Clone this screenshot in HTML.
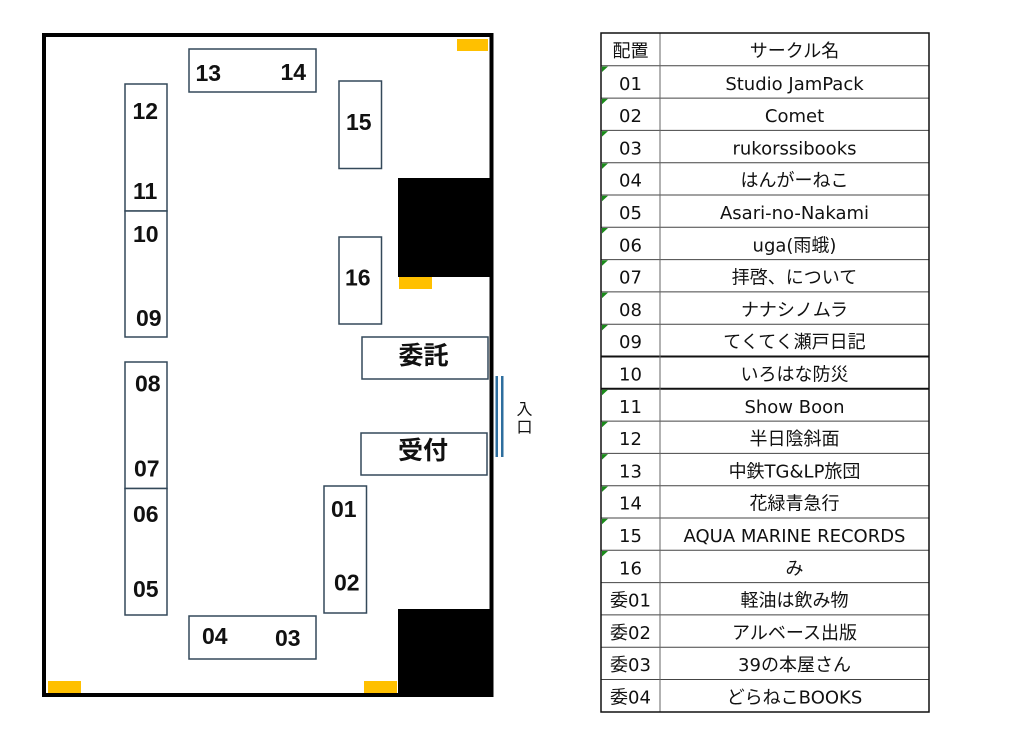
<!DOCTYPE html>
<html>
<head>
<meta charset="utf-8">
<style>
html,body{margin:0;padding:0;background:#fff;}
svg{display:block;}
.n{font-family:"Liberation Sans",sans-serif;font-weight:bold;font-size:23px;fill:#111;}
.k{font-family:"Liberation Sans","Noto Sans CJK JP",sans-serif;font-weight:bold;font-size:25px;fill:#111;}
.t{font-family:"DejaVu Sans","Noto Sans CJK JP",sans-serif;font-size:18px;fill:#111;}
.e{font-family:"Liberation Sans","Noto Sans CJK JP",sans-serif;font-size:16px;fill:#111;}
</style>
</head>
<body>
<svg width="1024" height="746" viewBox="0 0 1024 746" xmlns="http://www.w3.org/2000/svg">
<rect x="0" y="0" width="1024" height="746" fill="#fff"/>

<!-- Floor plan -->
<rect x="44" y="35" width="447.5" height="660" fill="#fff" stroke="#000" stroke-width="4"/>
<!-- black blocks -->
<rect x="398" y="178" width="94" height="99" fill="#000"/>
<rect x="398" y="609" width="95" height="88" fill="#000"/>
<!-- orange marks -->
<rect x="457" y="39" width="31" height="12" fill="#FFC000"/>
<rect x="399" y="277" width="33" height="12" fill="#FFC000"/>
<rect x="48" y="681" width="33" height="12" fill="#FFC000"/>
<rect x="364" y="681" width="33" height="12" fill="#FFC000"/>

<!-- entrance -->
<rect x="495.5" y="376" width="2.5" height="81" fill="#2E6E9E"/>
<rect x="501" y="376" width="2.5" height="81" fill="#2E6E9E"/>
<text class="e" x="524.5" y="410" text-anchor="middle" dominant-baseline="central">入</text>
<text class="e" x="524.5" y="428" text-anchor="middle" dominant-baseline="central">口</text>

<!-- tables -->
<g fill="#fff" stroke="#34495a" stroke-width="1.5">
<rect x="189" y="49" width="127" height="43"/>
<rect x="125" y="84" width="42" height="127"/>
<rect x="125" y="211" width="42" height="126"/>
<rect x="339" y="81" width="42.5" height="87.5"/>
<rect x="339" y="237" width="42.5" height="87"/>
<rect x="362" y="337" width="126" height="42"/>
<rect x="125" y="362" width="42" height="126.5"/>
<rect x="125" y="488.5" width="42" height="126.5"/>
<rect x="361" y="433" width="126" height="42"/>
<rect x="324" y="486" width="42.5" height="127"/>
<rect x="189" y="616" width="127" height="43"/>
</g>

<text class="n" x="195.5" y="81">13</text>
<text class="n" x="280.5" y="80">14</text>
<text class="n" x="132.5" y="119">12</text>
<text class="n" x="133" y="199">11</text>
<text class="n" x="133" y="242">10</text>
<text class="n" x="136" y="326">09</text>
<text class="n" x="346" y="130">15</text>
<text class="n" x="345" y="285.5">16</text>
<text class="n" x="135" y="391.5">08</text>
<text class="n" x="134" y="476.5">07</text>
<text class="n" x="133" y="522">06</text>
<text class="n" x="133" y="597">05</text>
<text class="n" x="331" y="517">01</text>
<text class="n" x="334" y="590.5">02</text>
<text class="n" x="202" y="644">04</text>
<text class="n" x="275" y="646">03</text>
<text class="k" x="423.5" y="356" text-anchor="middle" dominant-baseline="central">委託</text>
<text class="k" x="423" y="451" text-anchor="middle" dominant-baseline="central">受付</text>

<!-- Table -->
<g stroke="#444" stroke-width="1">
<line x1="601" y1="65.8" x2="929" y2="65.8"/>
<line x1="601" y1="98.1" x2="929" y2="98.1"/>
<line x1="601" y1="130.4" x2="929" y2="130.4"/>
<line x1="601" y1="162.7" x2="929" y2="162.7"/>
<line x1="601" y1="195.0" x2="929" y2="195.0"/>
<line x1="601" y1="227.3" x2="929" y2="227.3"/>
<line x1="601" y1="259.6" x2="929" y2="259.6"/>
<line x1="601" y1="291.9" x2="929" y2="291.9"/>
<line x1="601" y1="324.2" x2="929" y2="324.2"/>
<line x1="601" y1="356.5" x2="929" y2="356.5" stroke="#111" stroke-width="2"/>
<line x1="601" y1="388.8" x2="929" y2="388.8" stroke="#111" stroke-width="2"/>
<line x1="601" y1="421.1" x2="929" y2="421.1"/>
<line x1="601" y1="453.4" x2="929" y2="453.4"/>
<line x1="601" y1="485.7" x2="929" y2="485.7"/>
<line x1="601" y1="518.0" x2="929" y2="518.0"/>
<line x1="601" y1="550.3" x2="929" y2="550.3"/>
<line x1="601" y1="582.6" x2="929" y2="582.6"/>
<line x1="601" y1="614.9" x2="929" y2="614.9"/>
<line x1="601" y1="647.2" x2="929" y2="647.2"/>
<line x1="601" y1="679.5" x2="929" y2="679.5"/>
<line x1="660" y1="33" x2="660" y2="712" stroke="#666"/>
</g>
<rect x="601" y="33" width="328" height="679" fill="none" stroke="#111" stroke-width="1.5"/>

<!-- green corner marks -->
<g fill="#1a8a1a">
<polygon points="602,66.5 608,66.5 602,72"/>
<polygon points="602,98.8 608,98.8 602,104.3"/>
<polygon points="602,131.1 608,131.1 602,136.6"/>
<polygon points="602,163.4 608,163.4 602,168.9"/>
<polygon points="602,195.7 608,195.7 602,201.2"/>
<polygon points="602,228.0 608,228.0 602,233.5"/>
<polygon points="602,260.3 608,260.3 602,265.8"/>
<polygon points="602,292.6 608,292.6 602,298.1"/>
<polygon points="602,324.9 608,324.9 602,330.4"/>
<polygon points="602,389.8 608,389.8 602,395.3"/>
<polygon points="602,421.8 608,421.8 602,427.3"/>
<polygon points="602,454.1 608,454.1 602,459.6"/>
<polygon points="602,486.4 608,486.4 602,491.9"/>
<polygon points="602,518.7 608,518.7 602,524.2"/>
<polygon points="602,551.0 608,551.0 602,556.5"/>
</g>

<g class="t" text-anchor="middle">
<text x="630.5" y="57">配置</text><text x="794.5" y="57">サークル名</text>
<text x="630.5" y="89.8">01</text><text x="794.5" y="89.8">Studio JamPack</text>
<text x="630.5" y="122.1">02</text><text x="794.5" y="122.1">Comet</text>
<text x="630.5" y="154.4">03</text><text x="794.5" y="154.4">rukorssibooks</text>
<text x="630.5" y="186.7">04</text><text x="794.5" y="186.7">はんがーねこ</text>
<text x="630.5" y="219.0">05</text><text x="794.5" y="219.0">Asari-no-Nakami</text>
<text x="630.5" y="251.3">06</text><text x="794.5" y="251.3">uga(雨蛾)</text>
<text x="630.5" y="283.6">07</text><text x="794.5" y="283.6">拝啓、について</text>
<text x="630.5" y="315.9">08</text><text x="794.5" y="315.9">ナナシノムラ</text>
<text x="630.5" y="348.2">09</text><text x="794.5" y="348.2">てくてく瀬戸日記</text>
<text x="630.5" y="380.5">10</text><text x="794.5" y="380.5">いろはな防災</text>
<text x="630.5" y="412.8">11</text><text x="794.5" y="412.8">Show Boon</text>
<text x="630.5" y="445.1">12</text><text x="794.5" y="445.1">半日陰斜面</text>
<text x="630.5" y="477.4">13</text><text x="794.5" y="477.4">中鉄TG&amp;LP旅団</text>
<text x="630.5" y="509.7">14</text><text x="794.5" y="509.7">花緑青急行</text>
<text x="630.5" y="542.0">15</text><text x="794.5" y="542.0">AQUA MARINE RECORDS</text>
<text x="630.5" y="574.3">16</text><text x="794.5" y="574.3">み</text>
<text x="630.5" y="606.6">委01</text><text x="794.5" y="606.6">軽油は飲み物</text>
<text x="630.5" y="638.9">委02</text><text x="794.5" y="638.9">アルベース出版</text>
<text x="630.5" y="671.2">委03</text><text x="794.5" y="671.2">39の本屋さん</text>
<text x="630.5" y="703.5">委04</text><text x="794.5" y="703.5">どらねこBOOKS</text>
</g>
</svg>
</body>
</html>
